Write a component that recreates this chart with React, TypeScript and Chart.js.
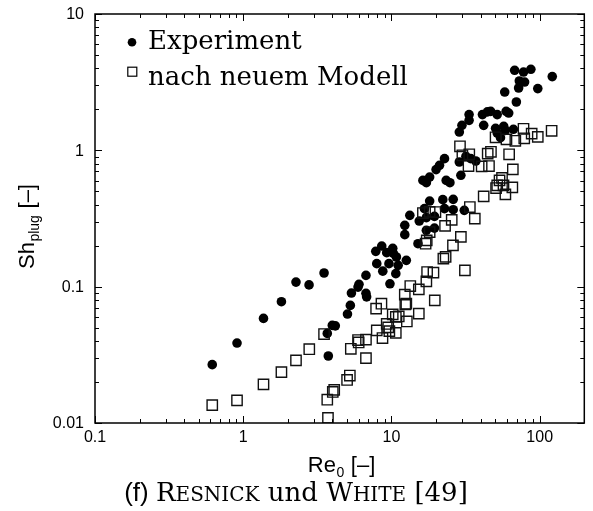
import React, { useEffect, useRef } from 'react';
import { Chart, registerables } from 'chart.js';

Chart.register(...registerables);

// ---------------- data ----------------
const seriesLabels = ['Experiment', 'nach neuem Modell'];

const experimentRe = [0.618, 0.908, 1.37, 1.81, 2.27, 2.78, 3.51, 3.69, 3.75, 3.99, 4.18, 5.05, 5.28, 5.37, 5.95, 6.04, 6.73, 6.8, 6.73, 7.84, 7.96, 8.6, 8.74, 9.29, 9.62, 9.77, 10.2, 10.3, 10.7, 11.1, 10.8, 12.6, 12.3, 12.3, 13.3, 15.1, 15.4, 16.7, 17.2, 19.5, 17.2, 19.5, 18.1, 22.2, 26.1, 26.1, 22.8, 31.0, 16.3, 17.2, 18.1, 20.0, 21.1, 22.8, 23.4, 24.8, 29.4, 28.7, 31.8, 34.3, 37.1, 28.7, 29.9, 33.4, 33.4, 41.1, 44.4, 46.7, 51.7, 59.4, 61.8, 41.9, 50.4, 51.7, 57.2, 58.7, 66.5, 54.4, 58.1, 69.6, 72.1, 72.9, 79.1, 97.1, 67.8, 77.8, 87.2, 121.6];
const experimentSh = [0.0268, 0.0386, 0.0585, 0.0776, 0.108, 0.103, 0.126, 0.0454, 0.031, 0.052, 0.0516, 0.063, 0.0729, 0.0898, 0.0993, 0.104, 0.0893, 0.0842, 0.121, 0.1815, 0.1475, 0.1986, 0.13, 0.1776, 0.1475, 0.105, 0.191, 0.1755, 0.1246, 0.1433, 0.165, 0.156, 0.2407, 0.2817, 0.3334, 0.2067, 0.303, 0.3735, 0.3208, 0.328, 0.259, 0.269, 0.4246, 0.4346, 0.437, 0.367, 0.3735, 0.363, 0.602, 0.579, 0.637, 0.722, 0.776, 0.869, 0.602, 0.579, 0.656, 0.821, 0.904, 0.869, 0.835, 1.362, 1.525, 1.828, 1.66, 1.828, 1.916, 1.932, 1.828, 1.932, 1.878, 1.525, 1.45, 1.339, 1.5, 1.402, 1.426, 1.239, 2.677, 2.262, 2.865, 3.225, 3.17, 2.836, 3.864, 3.753, 3.93, 3.473];

const modelRe = [0.618, 0.908, 1.37, 1.81, 2.27, 2.79, 3.51, 3.73, 3.69, 4.02, 4.11, 5.02, 5.24, 5.32, 5.95, 6.01, 6.73, 6.73, 7.88, 8.56, 7.96, 8.7, 9.29, 9.51, 9.68, 10.2, 10.7, 11.2, 10.7, 12.3, 12.4, 12.6, 12.7, 13.4, 15.3, 15.3, 17.2, 17.4, 19.2, 19.6, 17.0, 17.3, 22.4, 23.2, 26.0, 29.4, 31.3, 23.0, 25.5, 16.3, 18.1, 19.8, 33.8, 36.5, 18.1, 29.0, 30.1, 33.5, 33.1, 40.6, 45.5, 44.6, 46.9, 50.4, 59.7, 68.5, 78.7, 77.8, 88.3, 97.1, 120.4, 62.2, 65.9, 53.6, 51.7, 50.8, 57.0, 65.4, 58.7, 41.9, 55.7];
const modelSh = [0.01353, 0.01465, 0.0192, 0.0236, 0.0288, 0.0348, 0.0449, 0.0109, 0.01483, 0.0169, 0.0175, 0.0207, 0.0223, 0.035, 0.0406, 0.039, 0.0409, 0.0299, 0.069, 0.075, 0.0478, 0.042, 0.0533, 0.0503, 0.0472, 0.0626, 0.06, 0.0605, 0.0458, 0.0874, 0.0742, 0.075, 0.0556, 0.101, 0.0634, 0.0955, 0.1094, 0.128, 0.1267, 0.0793, 0.2067, 0.2186, 0.1605, 0.1654, 0.2009, 0.232, 0.1317, 0.2793, 0.309, 0.3467, 0.3538, 0.3526, 0.3837, 0.3154, 0.2516, 1.07, 0.919, 0.935, 0.767, 0.763, 0.767, 0.946, 0.975, 1.246, 1.204, 1.174, 1.225, 1.438, 1.326, 1.256, 1.39, 0.935, 0.725, 0.602, 0.5535, 0.529, 0.5535, 0.535, 0.4755, 0.4597, 0.628];

const xTickValues = [0.1, 1, 10, 100];
const xTickLabels = ['0.1', '1', '10', '100'];
const yTickValues = [0.01, 0.1, 1, 10];
const yTickLabels = ['0.01', '0.1', '1', '10'];

const xTitle = { main: 'Re', sub: '0', rest: ' [\u2013]' };
const yTitle = { main: 'Sh', sub: 'plug', rest: ' [\u2013]' };
const captionParts = [
  { t: '(f) ', kind: 'sans' },
  { t: 'R', kind: 'serif' },
  { t: 'ESNICK', kind: 'sc' },
  { t: ' und ', kind: 'serif' },
  { t: 'W', kind: 'serif' },
  { t: 'HITE', kind: 'sc' },
  { t: ' [49]', kind: 'serif' },
];

const X_MIN = 0.1;
const X_MAX = 200;
const Y_MIN = 0.01;
const Y_MAX = 10;

const SANS = '"Liberation Sans", Arial, sans-serif';
const SERIF = '"DejaVu Serif", serif';

const decorPlugin = {
  id: 'decor',
  afterDraw(chart: any) {
    const ctx: CanvasRenderingContext2D = chart.ctx;
    const { left, right, top, bottom } = chart.chartArea;
    const xs = chart.scales.x;
    const ys = chart.scales.y;
    ctx.save();
    ctx.strokeStyle = '#000';
    ctx.fillStyle = '#000';

    // frame
    ctx.lineWidth = 1.5;
    ctx.strokeRect(left, top, right - left, bottom - top);

    // ticks (inward, all four sides)
    ctx.lineWidth = 1;
    ctx.beginPath();
    for (let d = X_MIN; d < X_MAX; d *= 10) {
      for (let m = 1; m <= 9; m++) {
        const v = m * d;
        if (v > X_MAX * 1.0001) break;
        const px = Math.round(xs.getPixelForValue(v)) + 0.5;
        const len = m === 1 ? 7 : 4;
        ctx.moveTo(px, bottom);
        ctx.lineTo(px, bottom - len);
        ctx.moveTo(px, top);
        ctx.lineTo(px, top + len);
      }
    }
    for (let d = Y_MIN; d < Y_MAX * 1.0001; d *= 10) {
      for (let m = 1; m <= 9; m++) {
        const v = m * d;
        if (v > Y_MAX * 1.0001) break;
        const py = Math.round(ys.getPixelForValue(v)) + 0.5;
        const len = m === 1 ? 7 : 4;
        ctx.moveTo(left, py);
        ctx.lineTo(left + len, py);
        ctx.moveTo(right, py);
        ctx.lineTo(right - len, py);
      }
    }
    ctx.stroke();

    // tick labels
    ctx.font = '16px ' + SANS;
    ctx.textAlign = 'center';
    ctx.textBaseline = 'middle';
    xTickValues.forEach((v, i) => {
      ctx.fillText(xTickLabels[i], xs.getPixelForValue(v), bottom + 15);
    });
    ctx.textAlign = 'right';
    yTickValues.forEach((v, i) => {
      ctx.fillText(yTickLabels[i], left - 11, ys.getPixelForValue(v) + 1);
    });

    // axis titles with subscript
    ctx.textAlign = 'left';
    ctx.textBaseline = 'alphabetic';
    const big = '22px ' + SANS;
    const small = '14px ' + SANS;
    const drawSubTitle = (t: { main: string; sub: string; rest: string }, cx: number, baseline: number) => {
      ctx.font = big;
      const w1 = ctx.measureText(t.main).width;
      const w3 = ctx.measureText(t.rest).width;
      ctx.font = small;
      const w2 = ctx.measureText(t.sub).width;
      let x = cx - (w1 + w2 + w3) / 2;
      ctx.font = big;
      ctx.fillText(t.main, x, baseline);
      x += w1;
      ctx.font = small;
      ctx.fillText(t.sub, x + 0.5, baseline + 5);
      x += w2 + 1;
      ctx.font = big;
      ctx.fillText(t.rest, x, baseline);
    };
    drawSubTitle(xTitle, 341, 472);

    ctx.save();
    ctx.translate(33.5, 0);
    ctx.rotate(-Math.PI / 2);
    drawSubTitle(yTitle, -227, 0);
    ctx.restore();

    // caption (manual small caps)
    const capFont = (k: string) =>
      k === 'sans' ? '26px ' + SANS : k === 'sc' ? '20px ' + SERIF : '26px ' + SERIF;
    let total = 0;
    captionParts.forEach((p) => {
      ctx.font = capFont(p.kind);
      total += ctx.measureText(p.t).width;
    });
    let cx = 296 - total / 2;
    captionParts.forEach((p) => {
      ctx.font = capFont(p.kind);
      ctx.fillText(p.t, cx, 501);
      cx += ctx.measureText(p.t).width;
    });

    // legend
    ctx.font = '26px ' + SERIF;
    ctx.beginPath();
    ctx.arc(132, 42.3, 4.3, 0, Math.PI * 2);
    ctx.fill();
    ctx.fillText(seriesLabels[0], 148, 48.5);
    ctx.lineWidth = 1.2;
    ctx.strokeRect(127.8, 67.2, 9, 9);
    ctx.fillText(seriesLabels[1], 148, 85);

    ctx.restore();
  },
};

export default function App() {
  const canvasRef = useRef<HTMLCanvasElement | null>(null);

  useEffect(() => {
    if (!canvasRef.current) return;
    const chart = new Chart(canvasRef.current, {
      type: 'scatter',
      data: {
        datasets: [
          {
            label: seriesLabels[0],
            data: experimentRe.map((x, i) => ({ x, y: experimentSh[i] })),
            pointStyle: 'circle',
            pointRadius: 4.8,
            backgroundColor: '#000',
            borderColor: '#000',
            borderWidth: 0,
            order: 2,
          },
          {
            label: seriesLabels[1],
            data: modelRe.map((x, i) => ({ x, y: modelSh[i] })),
            pointStyle: 'rect',
            pointRadius: 7.3,
            backgroundColor: 'rgba(0,0,0,0)',
            borderColor: '#111',
            borderWidth: 1.4,
            order: 1,
          },
        ],
      },
      options: {
        responsive: false,
        animation: false,
        devicePixelRatio: 1,
        layout: { padding: { left: 95, right: 4, top: 14, bottom: 88 } },
        plugins: { legend: { display: false }, tooltip: { enabled: false } },
        scales: {
          x: { type: 'logarithmic', min: X_MIN, max: X_MAX, display: false },
          y: { type: 'logarithmic', min: Y_MIN, max: Y_MAX, display: false },
        },
      },
      plugins: [decorPlugin],
    });
    return () => chart.destroy();
  }, []);

  return (
    <div style={{ position: 'absolute', left: 0, top: 0, width: 593, height: 511, background: '#fff' }}>
      <canvas ref={canvasRef} width={593} height={511} />
    </div>
  );
}
